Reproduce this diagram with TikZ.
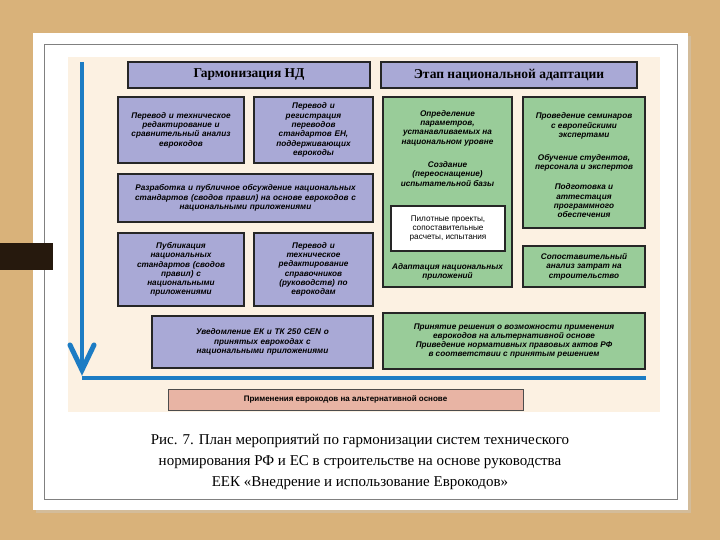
\documentclass[tikz,border=0pt]{standalone}
\usepackage{fontspec}
\setmainfont{Liberation Serif}
\newfontfamily\bsans{Liberation Sans}
\usetikzlibrary{arrows.meta}
\definecolor{wood}{HTML}{D9B27A}
\definecolor{cream}{HTML}{FCF1E2}
\definecolor{lav}{HTML}{A9A9D6}
\definecolor{grn}{HTML}{99CC99}
\definecolor{pinkb}{HTML}{E8B4A4}
\definecolor{blu}{HTML}{1C7CC4}
\tikzset{
  lbox/.style={draw=black!85,line width=1.3pt,fill=lav,align=center,font=\bsans\bfseries\itshape\fontsize{8.2}{9.3}\selectfont,inner sep=2pt},
  gbox/.style={draw=black!85,line width=1.3pt,fill=grn},
  hdr/.style={draw=black!85,line width=1.3pt,fill=lav,font=\bfseries\fontsize{13.5}{15}\selectfont},
  gtxt/.style={align=center,font=\bsans\bfseries\itshape\fontsize{8.2}{9.3}\selectfont},
}
\begin{document}
\begin{tikzpicture}[x=1pt,y=-1pt]
\useasboundingbox (0,0) rectangle (720,540);
\fill[wood] (0,0) rectangle (720,540);
\fill[black!20, opacity=.4] (36,36) rectangle (691,513);
\fill[white] (33,33) rectangle (688,510);
\draw[black!50,line width=0.4pt] (44,44) rectangle (677,499);
\fill[cream] (68,57) rectangle (660,412);
\fill[black!80!brown] (0,243) rectangle (53,270);
% headers
\node[hdr,minimum width=242pt,minimum height=26pt] (h1) at (249,75) {Гармонизация НД};
\node[hdr,minimum width=256pt,minimum height=26pt] (h2) at (509,75) {Этап национальной адаптации};
% left boxes
\node[lbox,minimum width=126pt,minimum height=66pt,text width=120pt] (l1) at (181,130) {Перевод и техническое\\редактирование и\\сравнительный анализ\\еврокодов};
\node[lbox,minimum width=119pt,minimum height=66pt,text width=110pt] (l2) at (313.5,130) {Перевод и\\регистрация\\переводов\\стандартов ЕН,\\поддерживающих\\еврокоды};
\node[lbox,minimum width=255pt,minimum height=48pt,text width=250pt] (l3) at (245.5,198) {Разработка и публичное обсуждение национальных\\стандартов (сводов правил) на основе еврокодов с\\национальными приложениями};
\node[lbox,minimum width=126pt,minimum height=73pt,text width=110pt] (l4) at (181,269.5) {Публикация\\национальных\\стандартов (сводов\\правил) с\\национальными\\приложениями};
\node[lbox,minimum width=119pt,minimum height=73pt,text width=110pt] (l5) at (313.5,269.5) {Перевод и\\техническое\\редактирование\\справочников\\(руководств) по\\еврокодам};
\node[lbox,minimum width=221pt,minimum height=52pt,text width=210pt] (l6) at (262.5,342) {Уведомление ЕК и ТК 250 CEN о\\принятых еврокодах с\\национальными приложениями};
% green
\node[gbox,minimum width=129pt,minimum height=190pt] (g1) at (447.5,192) {};
\node[gtxt] (g1a) at (447.5,128) {Определение\\параметров,\\устанавливаемых на\\национальном уровне};
\node[gtxt] (g1b) at (447.5,174) {Создание\\(переоснащение)\\испытательной базы};
\node[draw=black!85,line width=1.3pt,fill=white,minimum width=114pt,minimum height=45pt,align=center,font=\bsans\fontsize{8.2}{9.3}\selectfont] (pil) at (448,228.5) {Пилотные проекты,\\сопоставительные\\расчеты, испытания};
\node[gtxt] (g1c) at (447.5,272) {Адаптация национальных\\приложений};
\node[gbox,minimum width=122pt,minimum height=131pt] (g2) at (584,162.5) {};
\node[gtxt] (g2a) at (584,126) {Проведение семинаров\\с европейскими\\экспертами};
\node[gtxt] (g2b) at (584,163) {Обучение студентов,\\персонала и экспертов};
\node[gtxt] (g2c) at (584,201) {Подготовка и\\аттестация\\программного\\обеспечения};
\node[gbox,minimum width=122pt,minimum height=41pt] (g3) at (584,266.5) {};
\node[gtxt] at (g3) {Сопоставительный\\анализ затрат на\\строительство};
\node[gbox,minimum width=262pt,minimum height=56pt] (g4) at (514,341) {};
\node[gtxt] at (g4) {Принятие решения о возможности применения\\еврокодов на альтернативной основе\\Приведение нормативных правовых актов РФ\\в соответствии с принятым решением};
% blue arrow
\coordinate (bt) at (82,62);
\coordinate (bb) at (82,378);
\coordinate (be) at (646,378);
\draw[blu,line width=4pt] (bb) -- (be);
\draw[blu,line width=4pt] (bt) -- (82,370);
\draw[blu,line width=5pt,line cap=round,line join=miter] (70,345) -- (82,370) -- (94,345);
% pink
\node[draw=black!70,line width=0.8pt,fill=pinkb,minimum width=355pt,minimum height=21pt,font=\bsans\bfseries\fontsize{8}{9}\selectfont] (pk) at (345.5,399.5) {Применения еврокодов на альтернативной основе};
% caption
\node[align=center,font=\fontsize{15}{21}\selectfont] (cap) at (360,462) {Рис. 7. План мероприятий по гармонизации систем технического\\нормирования РФ и ЕС в строительстве на основе руководства\\ЕЕК «Внедрение и использование Еврокодов»};
\end{tikzpicture}
\end{document}
